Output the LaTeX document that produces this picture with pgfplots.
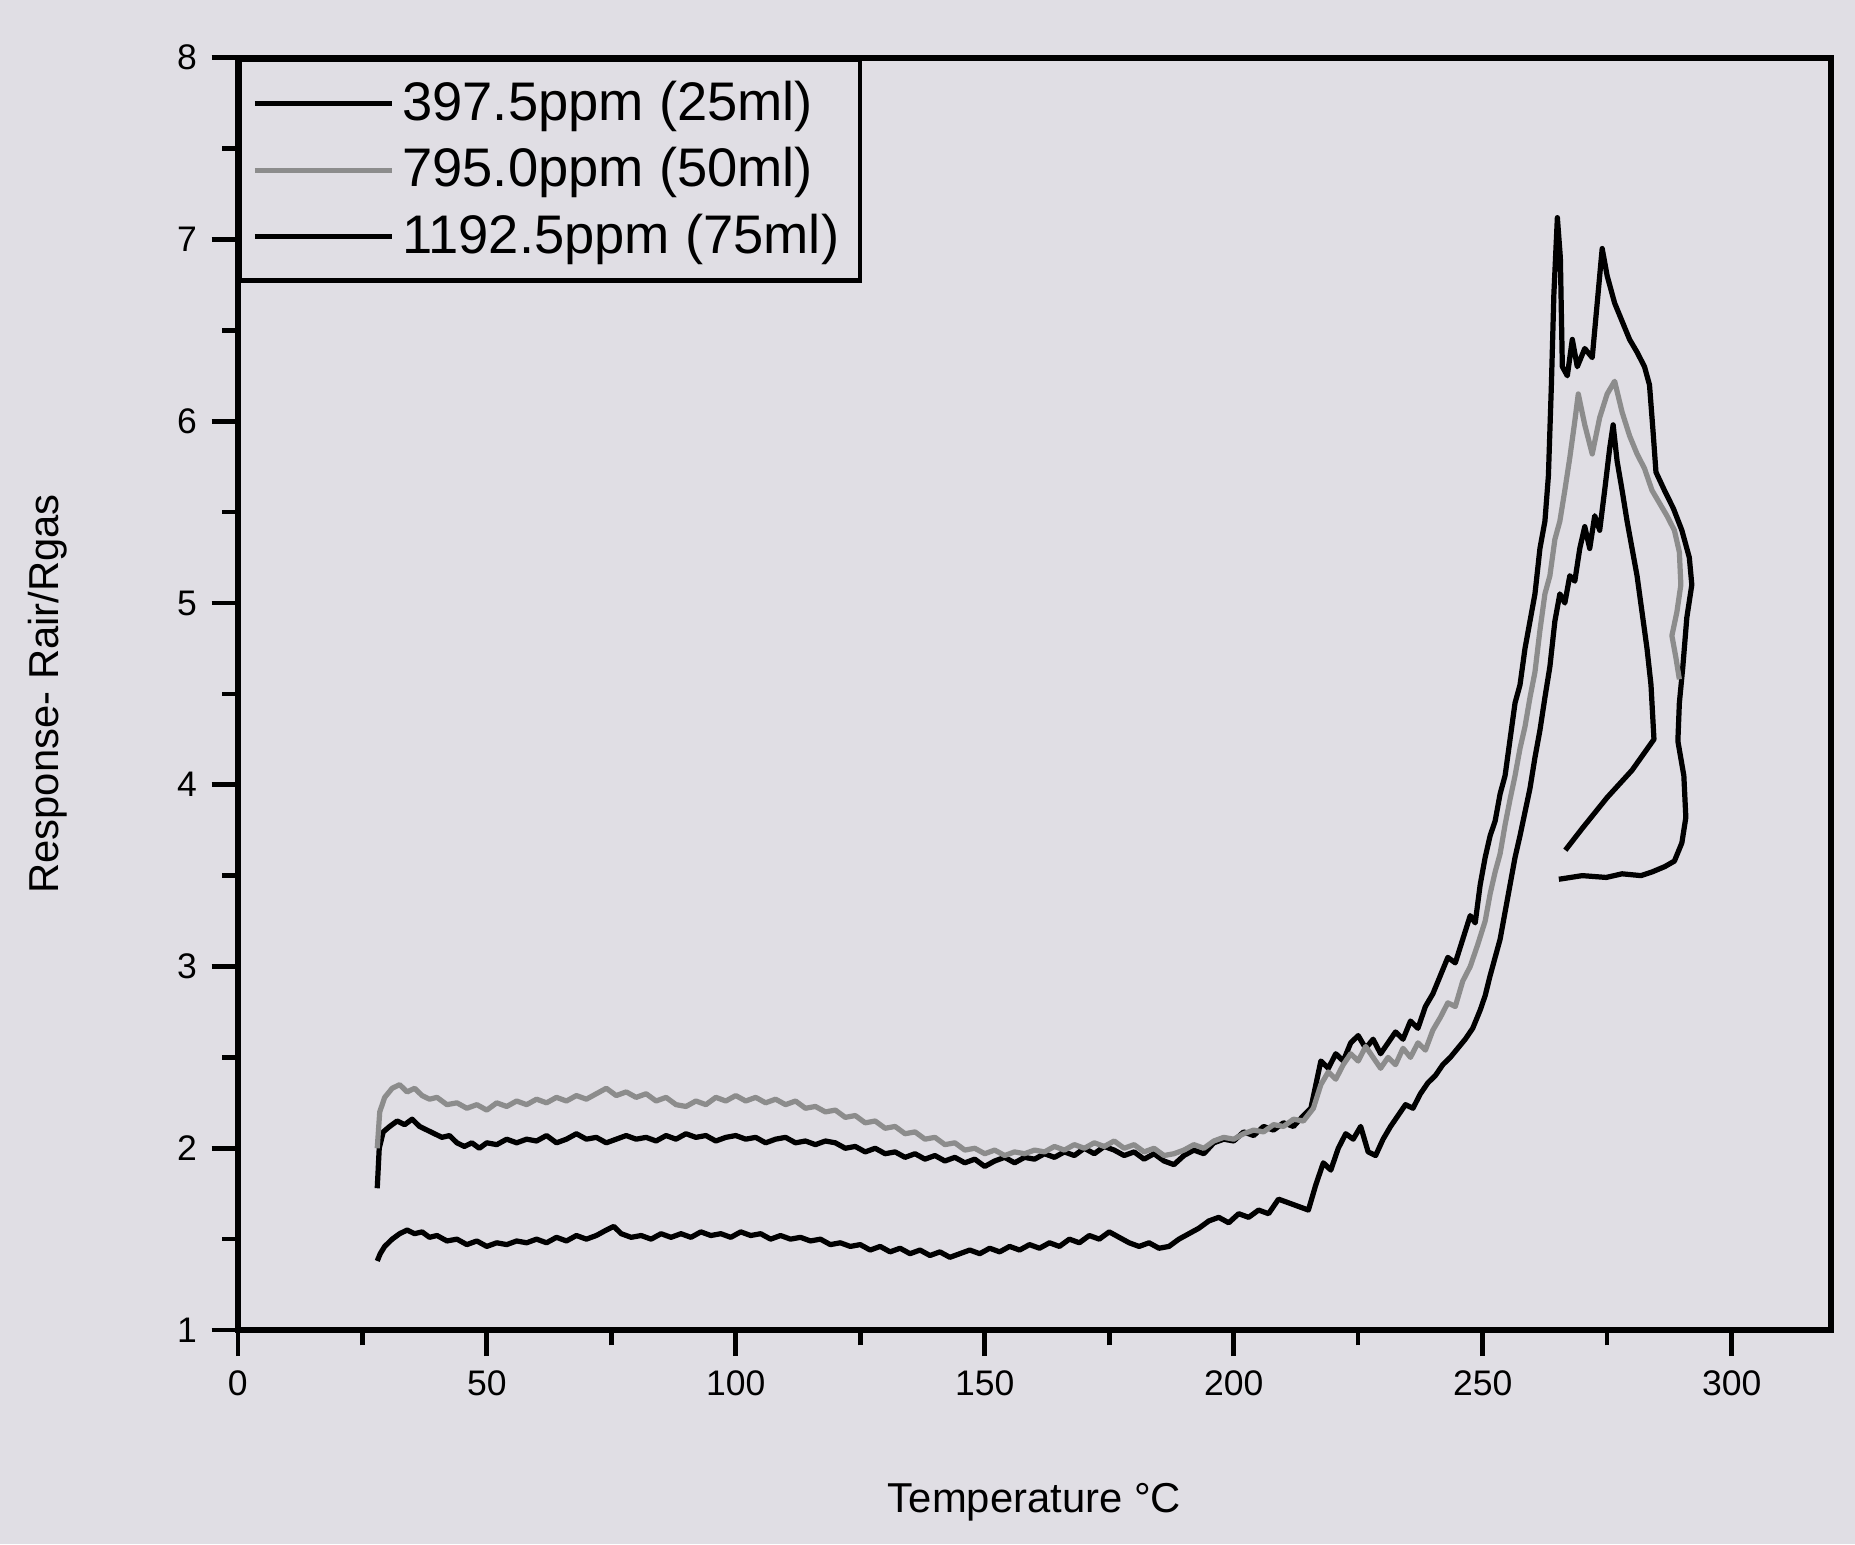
\documentclass[border=0pt]{standalone}
\usepackage{fontspec}
\setmainfont{Liberation Sans}
\usepackage{pgfplots}
\pgfplotsset{compat=1.18}
\definecolor{paper}{RGB}{224,222,228}
\definecolor{midgray}{RGB}{140,140,140}

\begin{document}
\begin{tikzpicture}
\fill[paper] (-2.0cm,-1.8cm) rectangle (13.6cm,11.185cm);
\begin{axis}[scale only axis, width=13.4cm, height=10.7cm,
  xmin=0, xmax=320, ymin=1, ymax=8,
  xtick={0,50,...,300}, ytick={1,...,8},
  minor xtick={25,75,...,275}, minor ytick={1.5,2.5,...,7.5},
  tick align=outside, xtick pos=bottom, ytick pos=left,
  major tick length=0.22cm, minor tick length=0.13cm,
  axis line style={line width=1.5pt},
  every tick/.style={black, line width=1.1pt},
  tick label style={font=\fontsize{8.5}{10}\selectfont},
  /pgf/number format/assume math mode=true,
  xlabel={Temperature °C}, ylabel={Response- Rair/Rgas},
  label style={font=\fontsize{13}{15}\selectfont},
  every axis x label/.style={at={(axis description cs:0.5,0)}, yshift=-1.45cm, anchor=center},
  every axis y label/.style={at={(axis description cs:0,0.5)}, xshift=-1.6cm, rotate=90, anchor=center},
  every axis plot/.append style={line width=1.25pt, line join=round},
  legend style={at={(0,1)}, anchor=north west, draw=black, line width=1.1pt,
    fill=paper, font=\fontsize{13}{15}\selectfont, inner xsep=3pt, inner ysep=3pt,
    row sep=1pt, cells={anchor=west}},
  legend image code/.code={\draw[#1, line width=1.1pt] (0cm,0cm) -- (1.15cm,0cm);}]

% 397.5 ppm (upper black)
\addplot[black] table {
28 1.78
28.4 2.00
29.2 2.09
30.5 2.12
32 2.15
33.5 2.13
35 2.16
36.5 2.12
38 2.10
39.5 2.08
41 2.06
42.5 2.07
44 2.03
45.5 2.01
47 2.03
48.5 2.00
50 2.03
52 2.02
54 2.05
56 2.03
58 2.05
60 2.04
62 2.07
64 2.03
66 2.05
68 2.08
70 2.05
72 2.06
74 2.03
76 2.05
78 2.07
80 2.05
82 2.06
84 2.04
86 2.07
88 2.05
90 2.08
92 2.06
94 2.07
96 2.04
98 2.06
100 2.07
102 2.05
104 2.06
106 2.03
108 2.05
110 2.06
112 2.03
114 2.04
116 2.02
118 2.04
120 2.03
122 2.00
124 2.01
126 1.98
128 2.00
130 1.97
132 1.98
134 1.95
136 1.97
138 1.94
140 1.96
142 1.93
144 1.95
146 1.92
148 1.94
150 1.90
152 1.93
154 1.95
156 1.92
158 1.95
160 1.94
162 1.97
164 1.95
166 1.98
168 1.96
170 2.00
172 1.97
174 2.01
176 1.99
178 1.96
180 1.98
182 1.94
184 1.97
186 1.93
188 1.91
190 1.96
192 1.99
194 1.97
196 2.03
198 2.05
200 2.04
202 2.09
204 2.07
206 2.12
208 2.10
210 2.14
212 2.12
214 2.18
215.5 2.22
216.5 2.35
217.5 2.48
219 2.44
220.5 2.52
222 2.48
223.5 2.58
225 2.62
226.5 2.55
228 2.60
229.5 2.52
231 2.58
232.5 2.64
234 2.60
235.5 2.70
237 2.66
238.5 2.78
240 2.85
241.5 2.95
243 3.05
244.5 3.02
246 3.15
247.5 3.28
248.5 3.24
249.5 3.45
250.5 3.60
251.5 3.72
252.5 3.80
253.5 3.95
254.5 4.05
255.5 4.25
256.5 4.45
257.5 4.55
258.5 4.75
259.5 4.90
260.5 5.05
261.5 5.30
262.5 5.45
263.2 5.70
263.8 6.20
264.3 6.70
265 7.12
265.6 6.90
266 6.30
267 6.25
268 6.45
269 6.30
270.5 6.40
272 6.35
273 6.65
274 6.95
275 6.80
276.5 6.65
278 6.55
279.5 6.45
281 6.38
282.5 6.30
283.5 6.20
284.2 5.95
284.8 5.72
286.5 5.62
288.3 5.52
290 5.40
291.5 5.25
292 5.10
291 4.92
290.2 4.65
289.5 4.45
289.2 4.24
290.4 4.05
290.8 3.82
290 3.68
288.5 3.58
286.6 3.55
284 3.52
281.8 3.50
278 3.51
274.8 3.49
270 3.50
265.3 3.48
};
\addlegendentry{397.5ppm (25ml)}

% 795.0 ppm (gray)
\addplot[midgray] table {
28 2.00
28.5 2.20
29.5 2.28
31 2.33
32.5 2.35
34 2.31
35.5 2.33
37 2.29
38.5 2.27
40 2.28
42 2.24
44 2.25
46 2.22
48 2.24
50 2.21
52 2.25
54 2.23
56 2.26
58 2.24
60 2.27
62 2.25
64 2.28
66 2.26
68 2.29
70 2.27
72 2.30
74 2.33
76 2.29
78 2.31
80 2.28
82 2.30
84 2.26
86 2.28
88 2.24
90 2.23
92 2.26
94 2.24
96 2.28
98 2.26
100 2.29
102 2.26
104 2.28
106 2.25
108 2.27
110 2.24
112 2.26
114 2.22
116 2.23
118 2.20
120 2.21
122 2.17
124 2.18
126 2.14
128 2.15
130 2.11
132 2.12
134 2.08
136 2.09
138 2.05
140 2.06
142 2.02
144 2.03
146 1.99
148 2.00
150 1.97
152 1.99
154 1.96
156 1.98
158 1.97
160 1.99
162 1.98
164 2.01
166 1.99
168 2.02
170 2.00
172 2.03
174 2.01
176 2.04
178 2.00
180 2.02
182 1.98
184 2.00
186 1.96
188 1.97
190 1.99
192 2.02
194 2.00
196 2.04
198 2.06
200 2.05
202 2.08
204 2.10
206 2.09
208 2.13
210 2.12
212 2.16
214 2.15
216 2.22
217.5 2.35
219 2.42
220.5 2.38
222 2.46
223.5 2.52
225 2.48
226.5 2.56
228 2.50
229.5 2.44
231 2.50
232.5 2.46
234 2.55
235.5 2.50
237 2.58
238.5 2.54
240 2.65
241.5 2.72
243 2.80
244.5 2.78
246 2.92
247.5 3.00
249 3.12
250.5 3.25
251.5 3.40
252.5 3.52
253.5 3.62
254.5 3.78
255.5 3.92
256.5 4.05
257.5 4.20
258.5 4.32
259.5 4.48
260.5 4.62
261.5 4.85
262.5 5.05
263.5 5.15
264.5 5.35
265.5 5.45
266.5 5.62
267.5 5.80
268.5 6.00
269.2 6.15
270.5 5.98
272 5.82
273.5 6.02
275 6.15
276.5 6.22
278 6.05
279.5 5.92
281 5.82
282.5 5.74
284 5.62
285.5 5.55
287 5.48
288.5 5.40
289.5 5.28
289.8 5.10
289 4.95
288 4.82
288.8 4.70
289.5 4.58
};
\addlegendentry{795.0ppm (50ml)}

% 1192.5 ppm (lower black)
\addplot[black] table {
28 1.38
28.6 1.42
29.5 1.46
31 1.50
32.5 1.53
34 1.55
35.5 1.53
37 1.54
38.5 1.51
40 1.52
42 1.49
44 1.50
46 1.47
48 1.49
50 1.46
52 1.48
54 1.47
56 1.49
58 1.48
60 1.50
62 1.48
64 1.51
66 1.49
68 1.52
70 1.50
72 1.52
74 1.55
75.5 1.57
77 1.53
79 1.51
81 1.52
83 1.50
85 1.53
87 1.51
89 1.53
91 1.51
93 1.54
95 1.52
97 1.53
99 1.51
101 1.54
103 1.52
105 1.53
107 1.50
109 1.52
111 1.50
113 1.51
115 1.49
117 1.50
119 1.47
121 1.48
123 1.46
125 1.47
127 1.44
129 1.46
131 1.43
133 1.45
135 1.42
137 1.44
139 1.41
141 1.43
143 1.40
145 1.42
147 1.44
149 1.42
151 1.45
153 1.43
155 1.46
157 1.44
159 1.47
161 1.45
163 1.48
165 1.46
167 1.50
169 1.48
171 1.52
173 1.50
175 1.54
177 1.51
179 1.48
181 1.46
183 1.48
185 1.45
187 1.46
189 1.50
191 1.53
193 1.56
195 1.60
197 1.62
199 1.59
201 1.64
203 1.62
205 1.66
207 1.64
209 1.72
211 1.70
213 1.68
215 1.66
216.5 1.80
218 1.92
219.5 1.88
221 2.00
222.5 2.08
224 2.05
225.5 2.12
227 1.98
228.5 1.96
230 2.05
231.5 2.12
233 2.18
234.5 2.24
236 2.22
237.5 2.30
239 2.36
240.5 2.40
242 2.46
243.5 2.50
245 2.55
246.5 2.60
248 2.66
249.5 2.76
250.5 2.84
251.5 2.95
252.5 3.05
253.5 3.15
254.5 3.30
255.5 3.45
256.5 3.60
257.5 3.72
258.5 3.85
259.5 3.98
260.5 4.15
261.5 4.30
262.5 4.48
263.5 4.65
264.5 4.90
265.5 5.05
266.5 5.00
267.5 5.15
268.5 5.12
269.5 5.30
270.5 5.42
271.5 5.30
272.5 5.48
273.5 5.40
274.5 5.62
275.5 5.85
276.2 5.98
277 5.78
278 5.62
279 5.45
280 5.30
281 5.15
282 4.95
283 4.75
283.8 4.55
284.4 4.25
280 4.08
275 3.93
270 3.76
266.6 3.64
};
\addlegendentry{1192.5ppm (75ml)}
\end{axis}
\pgfresetboundingbox
\path (-2.0cm,-1.8cm) rectangle (13.6cm,11.185cm);
\end{tikzpicture}
\end{document}
